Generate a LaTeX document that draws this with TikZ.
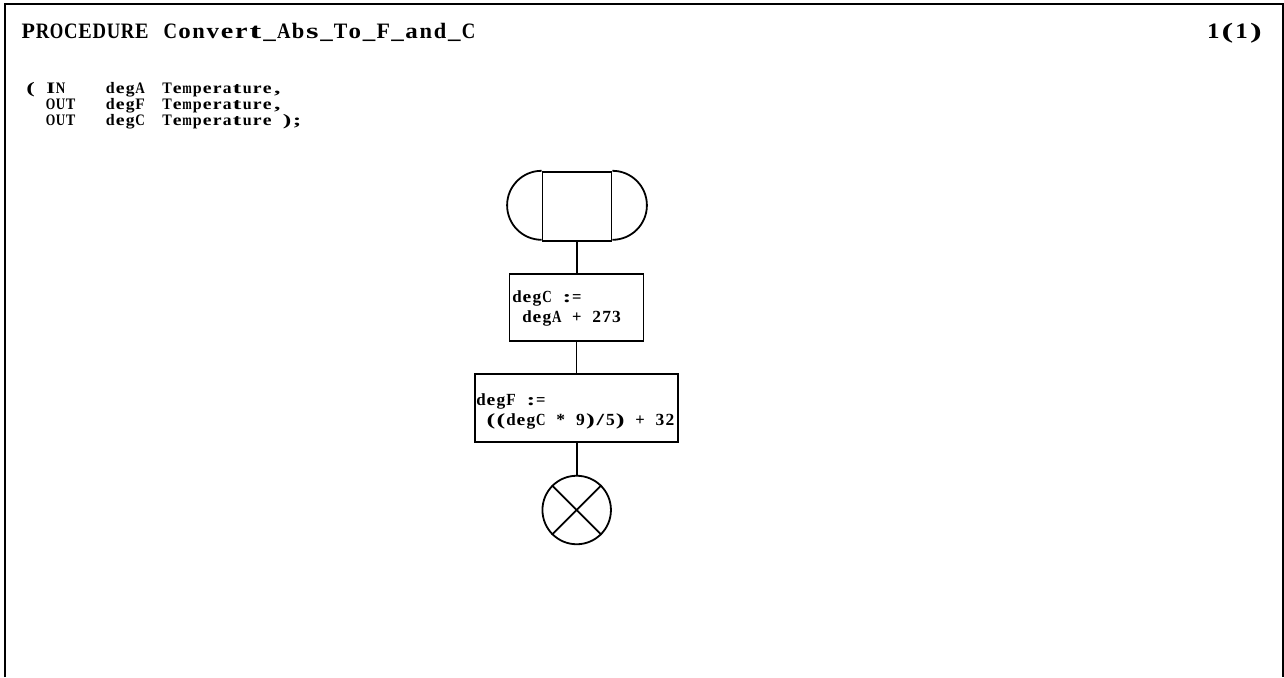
\documentclass[tikz,border=0pt]{standalone}
\usepackage{fontspec}
\usepackage{graphicx}
\setmainfont{Liberation Serif}
\makeatletter
\newsavebox\mchbox
\newlength\mcell
\newcommand\monospaced[2]{%
  \setlength\mcell{#1}%
  \@tfor\mch:=#2\do{%
    \sbox\mchbox{\mch}%
    \ifdim\wd\mchbox>0.95\mcell
      \makebox[\mcell][c]{\resizebox{0.95\mcell}{\height}{\usebox\mchbox}}%
    \else
      \ifdim\wd\mchbox>1pt
        \pgfmathsetmacro\mfac{min(1.6,(0.88*\the\mcell)/(\the\wd\mchbox))}%
        \pgfmathsetmacro\mfac{max(1,\mfac)}%
        \makebox[\mcell][c]{\scalebox{\mfac}[1]{\usebox\mchbox}}%
      \else
        \makebox[\mcell][c]{\usebox\mchbox}%
      \fi
    \fi}}
\makeatother
\begin{document}
\begin{tikzpicture}[x=1pt,y=-1pt,
  frame/.style={line width=2.2pt},
  symb/.style={draw,line width=1.8pt,inner sep=0pt},
  link/.style={line width=1.8pt},
  txt/.style={anchor=base west,inner sep=0pt,font=\bfseries\fontsize{17}{18}\selectfont},
  ptxt/.style={anchor=base west,inner sep=0pt,font=\bfseries\fontsize{16}{18}\selectfont},
  ttlstyle/.style={anchor=base west,inner sep=0pt,font=\bfseries\fontsize{22}{24}\selectfont}]
\useasboundingbox (0,0) rectangle (1284,677);
\draw[frame] (5,677) -- (5,4) -- (1283,4) -- (1283,677);
\node[ttlstyle] (ttl) at (21,38.5) {\monospaced{14.2pt}{PROCEDURE~Convert\_Abs\_To\_F\_and\_C}};
\node[ttlstyle] (pg) at (1206,38.5) {\monospaced{14.2pt}{1(1)}};
% parameters
\node[ptxt] (p1a) at (25.5,93) {\monospaced{10pt}{(~IN}};
\node[ptxt] (p1b) at (105,93) {\monospaced{10pt}{degA}};
\node[ptxt] (p1c) at (162,93) {\monospaced{10pt}{Temperature,}};
\node[ptxt] (p2a) at (45.5,109) {\monospaced{10pt}{OUT}};
\node[ptxt] (p2b) at (105,109) {\monospaced{10pt}{degF}};
\node[ptxt] (p2c) at (162,109) {\monospaced{10pt}{Temperature,}};
\node[ptxt] (p3a) at (45.5,125) {\monospaced{10pt}{OUT}};
\node[ptxt] (p3b) at (105,125) {\monospaced{10pt}{degC}};
\node[ptxt] (p3c) at (162,125) {\monospaced{10pt}{Temperature~);}};
% start symbol
\node[symb,minimum width=69pt,minimum height=69pt] (start) at (577,206.2) {};
\draw[link] (start.north west) arc[start angle=90,end angle=270,radius=34.5pt];
\draw[link] (start.north east) arc[start angle=90,end angle=-90,radius=34.5pt];
% task boxes
\node[symb,minimum width=134pt,minimum height=66.7pt] (b1) at (576.5,307.3) {};
\node[txt] (b1t1) at (512,302) {\monospaced{9.94pt}{degC~:=}};
\node[txt] (b1t2) at (512,322) {\monospaced{9.94pt}{~degA~+~273}};
\node[symb,minimum width=203.3pt,minimum height=67.7pt] (b2) at (576.7,407.8) {};
\node[txt] (b2t1) at (476,405) {\monospaced{9.94pt}{degF~:=}};
\node[txt] (b2t2) at (476,425) {\monospaced{9.94pt}{~((degC~*~9)/5)~+~32}};
% stop
\node[symb,circle,minimum size=68.5pt] (stop) at (576.7,510) {};
\draw[link] (stop.north west) -- (stop.south east);
\draw[link] (stop.north east) -- (stop.south west);
% connectors
\draw[link] (start.south) -- (start.south |- b1.north);
\draw[link] (b1.south) -- (b1.south |- b2.north);
\draw[link] (b2.south) -- (b2.south |- stop.north);
\end{tikzpicture}
\end{document}
